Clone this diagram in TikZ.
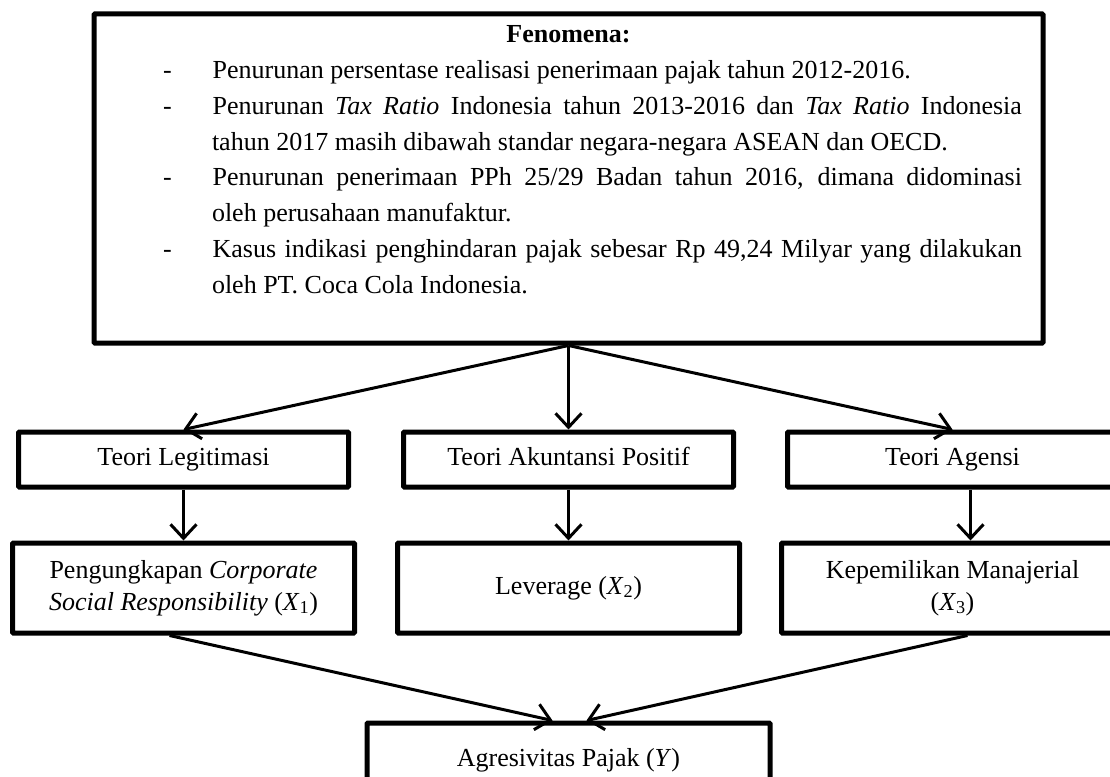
\documentclass[tikz,border=0pt]{standalone}
\usepackage{fontspec}
\setmainfont{Liberation Serif}
\usetikzlibrary{arrows.meta}
\tikzstyle{frame} = [rectangle, draw, line width=5pt, minimum width=949pt, minimum height=329pt, rounded corners=1pt]
\tikzstyle{teori} = [rectangle, draw, line width=5pt, minimum width=330pt, minimum height=55pt, text height=18pt, text depth=6pt, align=center, rounded corners=1pt]
\tikzstyle{variabel} = [rectangle, draw, line width=5pt, minimum width=342pt, minimum height=90pt, align=center, rounded corners=1pt]
\tikzstyle{hasil} = [rectangle, draw, line width=5pt, minimum width=403pt, minimum height=74pt, text height=18pt, text depth=6pt, align=center, rounded corners=1pt]
\tikzstyle{arrow} = [draw, line width=3pt, -{Straight Barb[length=14pt,width=26pt]}]

\begin{document}
\begin{tikzpicture}[x=1pt, y=1pt, font=\fontsize{26}{32}\selectfont]
        \useasboundingbox (0,0) rectangle (1110,-776);
        % Place nodes
        \node [frame] (A) at (568.5,-178.5) {};
        \node [anchor=north, inner sep=0pt, yshift=-14pt, font=\fontsize{26}{35.8}\selectfont] (B) at (A.north) {\begin{minipage}{949pt}
            {\centering\textbf{Fenomena:}\par}
            \begin{list}{-}{\setlength{\leftmargin}{118pt}\setlength{\rightmargin}{21pt}%
                \setlength{\labelsep}{41pt}\setlength{\labelwidth}{8pt}%
                \setlength{\itemsep}{0pt}\setlength{\topsep}{0pt}%
                \setlength{\parsep}{0pt}\setlength{\partopsep}{0pt}}
            \item Penurunan persentase realisasi penerimaan pajak tahun 2012-2016.
            \item Penurunan \textit{Tax Ratio} Indonesia tahun 2013-2016 dan \textit{Tax Ratio} Indonesia\linebreak tahun 2017 masih dibawah standar negara-negara ASEAN dan OECD.
            \item Penurunan penerimaan PPh 25/29 Badan tahun 2016, dimana didominasi\linebreak oleh perusahaan manufaktur.
            \item Kasus indikasi penghindaran pajak sebesar Rp 49,24 Milyar yang dilakukan\linebreak oleh PT. Coca Cola Indonesia.
            \end{list}
        \end{minipage}};
        \node [teori, below of=A, node distance=281pt] (C) {Teori Akuntansi Positif};
        \node [teori, left of=C, node distance=385pt] (D) {Teori Legitimasi};
        \node [teori, right of=C, node distance=384pt] (E) {Teori Agensi};
        \node [variabel, below of=D, node distance=128.5pt] (F) {Pengungkapan \textit{Corporate}\\\textit{Social Responsibility} (\textit{X}\textsubscript{1})};
        \node [variabel, below of=C, node distance=128.5pt] (G) {Leverage (\textit{X}\textsubscript{2})};
        \node [variabel, below of=E, node distance=128.5pt] (H) {Kepemilikan Manajerial\\(\textit{X}\textsubscript{3})};
        \node [hasil, below of=G, node distance=172pt] (I) {Agresivitas Pajak (\textit{Y})};
        % Draw edges
        \path [arrow] (A.south) -- (D.north);
        \path [arrow] (A.south) -- (C.north);
        \path [arrow] (A.south) -- (E.north);
        \path [arrow] (D) -- (F);
        \path [arrow] (C) -- (G);
        \path [arrow] ([xshift=18pt]E.south) -- ([xshift=18pt]H.north);
        \path [arrow] ([xshift=-14pt]F.south) -- ([xshift=-16pt]I.north);
        \path [arrow] ([xshift=15pt]H.south) -- ([xshift=18pt]I.north);
    \end{tikzpicture}
\end{document}
